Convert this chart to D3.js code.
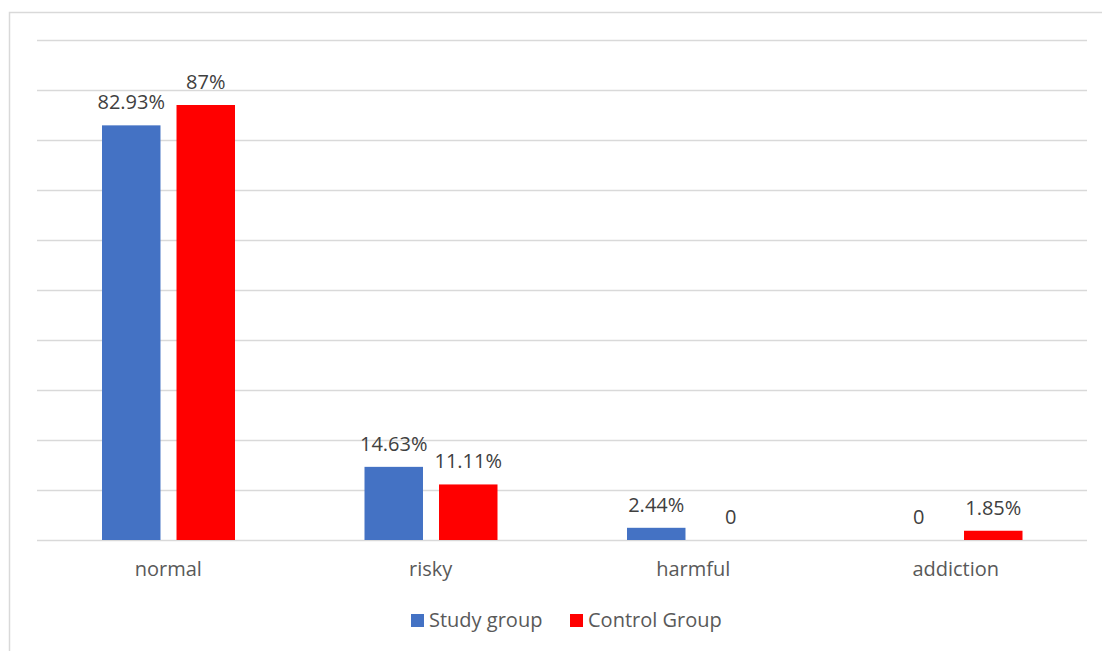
<!DOCTYPE html>
<html>
<head>
<meta charset="utf-8">
<script src="https://cdn.jsdelivr.net/npm/d3@7"></script>
<style>
  body { margin: 0; background: #fff; }
  svg { display: block; font-family: "Open Sans", "Noto Sans", sans-serif; }
</style>
</head>
<body>
<div id="chart"></div>
<script>
const categories = ['normal', 'risky', 'harmful', 'addiction'];
const seriesNames = ['Study group', 'Control Group'];
const studyValues = [82.93, 14.63, 2.44, 0];
const controlValues = [87, 11.11, 0, 1.85];
const studyLabels = ['82.93%', '14.63%', '2.44%', '0'];
const controlLabels = ['87%', '11.11%', '0', '1.85%'];
const colors = ['#4472C4', '#FF0000'];

const W = 1102, H = 651;
const margin = { top: 40, right: 15, bottom: 111, left: 37 };
const width = W - margin.left - margin.right;
const height = H - margin.top - margin.bottom;

const rows = categories.map((c, i) => ({
  cat: c,
  vals: [
    { s: 0, v: studyValues[i], label: studyLabels[i] },
    { s: 1, v: controlValues[i], label: controlLabels[i] }
  ]
}));

const svg = d3.select('#chart').append('svg')
  .attr('width', W).attr('height', H);

// outer chart frame
svg.append('rect')
  .attr('x', 9.5).attr('y', 12.5)
  .attr('width', W).attr('height', H)
  .attr('fill', 'none').attr('stroke', '#d9d9d9').attr('stroke-width', 1.5);

const g = svg.append('g').attr('transform', `translate(${margin.left},${margin.top})`);

// --- Scales ---
const x0 = d3.scaleBand().domain(categories).range([0, width]);
const x1 = d3.scaleBand().domain([0, 1]).range([65, 198]).paddingInner(0.215);
const y = d3.scaleLinear().domain([0, 100]).range([height, 0]);

// --- Gridlines ---
g.append('g')
  .call(d3.axisLeft(y).tickValues(d3.range(0, 101, 10)).tickSize(-width).tickFormat(''))
  .call(a => a.select('.domain').remove())
  .selectAll('line')
  .attr('stroke', '#d9d9d9')
  .attr('stroke-width', 1.3);

// --- Bars ---
const groups = g.selectAll('.grp').data(rows).enter().append('g')
  .attr('transform', d => `translate(${x0(d.cat)},0)`);

groups.selectAll('rect').data(d => d.vals).enter().append('rect')
  .attr('x', d => x1(d.s))
  .attr('width', x1.bandwidth())
  .attr('y', d => y(d.v))
  .attr('height', d => y(0) - y(d.v))
  .attr('fill', d => colors[d.s]);

groups.selectAll('text').data(d => d.vals).enter().append('text')
  .attr('x', d => x1(d.s) + x1.bandwidth() / 2)
  .attr('y', d => y(d.v) - 16)
  .attr('text-anchor', 'middle')
  .attr('fill', '#404040')
  .style('font-size', '20px')
  .text(d => d.label);

// --- Category axis ---
const xAxis = g.append('g')
  .attr('transform', `translate(0,${height})`)
  .call(d3.axisBottom(x0).tickSize(0).tickPadding(22));
xAxis.select('.domain').remove();
xAxis.selectAll('text')
  .attr('fill', '#595959')
  .style('font-size', '20px')
  .style('font-family', '"Open Sans", "Noto Sans", sans-serif');

// --- Legend ---
const legendX = [411, 570];
const legend = svg.selectAll('.leg').data(seriesNames).enter().append('g')
  .attr('transform', (d, i) => `translate(${legendX[i]},614)`);
legend.append('rect')
  .attr('width', 13).attr('height', 13)
  .attr('fill', (d, i) => colors[i]);
legend.append('text')
  .attr('x', 18).attr('y', 13)
  .attr('fill', '#595959')
  .style('font-size', '20px')
  .text(d => d);
</script>
</body>
</html>
